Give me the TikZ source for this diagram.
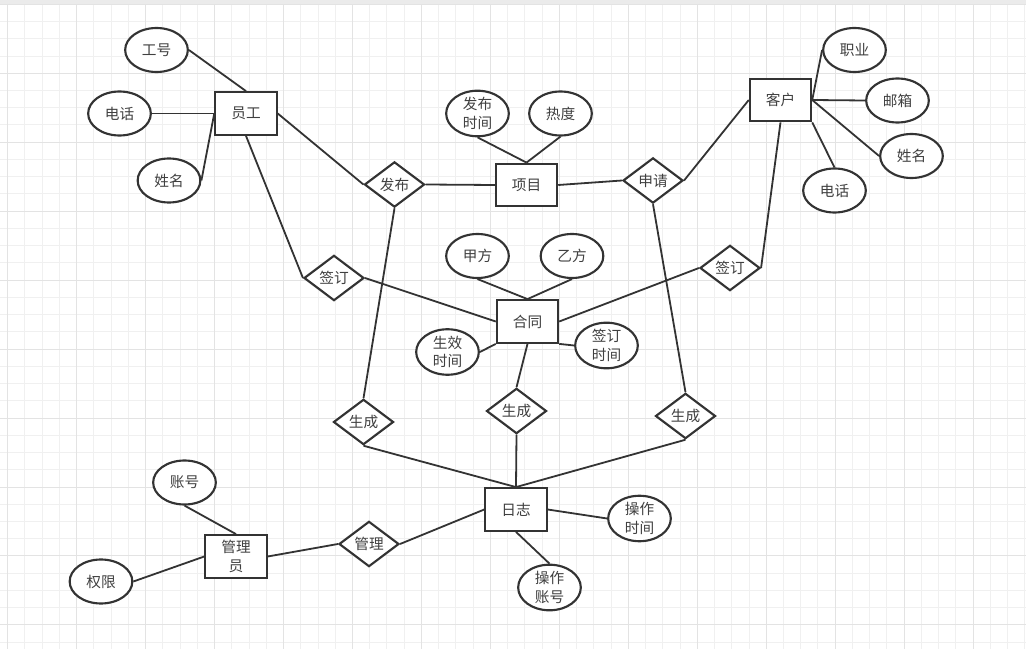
\documentclass[tikz,border=0pt]{standalone}
\usepackage{fontspec}
\setmainfont{Noto Sans CJK SC}
\usetikzlibrary{shapes.geometric}

\begin{document}
\begin{tikzpicture}[
    x=0.75pt, y=-0.75pt,
    font=\fontsize{11}{14}\selectfont,
    ent/.style={rectangle, draw=black!80, line width=1.6pt, fill=white,
                text=black!75, align=center, inner sep=0pt,
                minimum width=46pt, minimum height=32pt},
    attr/.style={ellipse, draw=black!80, line width=1.6pt, fill=white,
                text=black!75, align=center, inner sep=0pt,
                minimum width=47pt, minimum height=33pt},
    rel/.style={diamond, draw=black!80, line width=1.6pt, fill=white,
                text=black!75, align=center, inner sep=0pt,
                minimum width=45pt, minimum height=34pt},
    lnk/.style={line width=1.35pt, black!80},
    gridMinor/.style={line width=0.75pt, black!6},
    gridMajor/.style={line width=0.75pt, black!11},
]
\useasboundingbox (0,0) rectangle (1026,649);
\fill[white] (0,0) rectangle (1026,649);
\foreach \i in {0,...,59} \draw[gridMinor] (7.7+17.24*\i,0) -- ++(0,649);
\foreach \j in {0,...,37} \draw[gridMinor] (0,4.3+17.24*\j) -- ++(1026,0);
\foreach \i in {0,4,...,56} \draw[gridMajor] (7.7+17.24*\i,0) -- ++(0,649);
\foreach \j in {0,4,...,36} \draw[gridMajor] (0,4.3+17.24*\j) -- ++(1026,0);
\fill[black!8] (0,0) rectangle (1026,4);

\node[ent] (YG)  at (246,113.5) {员工};
\node[ent] (XM)  at (526.5,185) {项目};
\node[ent] (KH)  at (780.5,100) {客户};
\node[ent] (HT)  at (527.5,321.5) {合同};
\node[ent] (RZ)  at (516,509.5) {日志};
\node[ent] (GLY) at (236,556.5) {管理\\员};

\node[attr] (GH)   at (156.5,50) {工号};
\node[attr] (DHl)  at (119.5,113.5) {电话};
\node[attr] (XMl)  at (169,180.5) {姓名};
\node[attr] (FBSJ) at (477.5,113.5) {发布\\时间};
\node[attr] (RD)   at (560.5,113.5) {热度};
\node[attr] (ZY)   at (854.5,50) {职业};
\node[attr] (YX)   at (897.5,100.5) {邮箱};
\node[attr] (XMr)  at (911.5,156) {姓名};
\node[attr] (DHr)  at (834.5,190.5) {电话};
\node[attr] (JF)   at (477.5,256) {甲方};
\node[attr] (YF)   at (572,256) {乙方};
\node[attr] (SXSJ) at (447.5,352) {生效\\时间};
\node[attr] (QDSJ) at (606.5,345.5) {签订\\时间};
\node[attr] (CZSJ) at (639.5,518.5) {操作\\时间};
\node[attr] (CZZH) at (549.5,587.5) {操作\\账号};
\node[attr] (ZH)   at (184.5,482.5) {账号};
\node[attr] (QX)   at (101,581.5) {权限};

\node[rel] (FB)  at (394.5,184.5) {发布};
\node[rel] (SQ)  at (653,180.5) {申请};
\node[rel] (QDl) at (334,278) {签订};
\node[rel] (QDr) at (730,268) {签订};
\node[rel] (SCl) at (363.5,422) {生成};
\node[rel] (SCm) at (516.5,411) {生成};
\node[rel] (SCr) at (685.5,416) {生成};
\node[rel] (GL)  at (369,544) {管理};

\draw[lnk] (GH.east) -- (YG.north);
\draw[lnk] (DHl.east) -- (YG.west);
\draw[lnk] (XMl.east) -- (YG.west);
\draw[lnk] (YG.east) -- (FB.west);
\draw[lnk] (YG.south) -- (QDl.west);
\draw[lnk] (FB.east) -- (XM.west);
\draw[lnk] (FB.south) -- (SCl.north);
\draw[lnk] (FBSJ.south) -- (XM.north);
\draw[lnk] (RD.south) -- (XM.north);
\draw[lnk] (XM.east) -- (SQ.west);
\draw[lnk] (SQ.east) -- (KH.west);
\draw[lnk] (SQ.south) -- (SCr.north);
\draw[lnk] (KH.east) -- (ZY.west);
\draw[lnk] (KH.east) -- (YX.west);
\draw[lnk] (KH.east) -- (XMr.west);
\draw[lnk] (KH.south east) -- (DHr.north);
\draw[lnk] (KH.south) -- (QDr.east);
\draw[lnk] (QDl.east) -- (HT.west);
\draw[lnk] (QDr.west) -- (HT.east);
\draw[lnk] (JF.south) -- (HT.north);
\draw[lnk] (YF.south) -- (HT.north);
\draw[lnk] (SXSJ.east) -- (HT.south west);
\draw[lnk] (QDSJ.west) -- (HT.south east);
\draw[lnk] (HT.south) -- (SCm.north);
\draw[lnk] (SCl.south) -- (RZ.north);
\draw[lnk] (SCm.south) -- (RZ.north);
\draw[lnk] (SCr.south) -- (RZ.north);
\draw[lnk] (RZ.east) -- (CZSJ.west);
\draw[lnk] (RZ.south) -- (CZZH.north);
\draw[lnk] (RZ.west) -- (GL.east);
\draw[lnk] (GL.west) -- (GLY.east);
\draw[lnk] (ZH.south) -- (GLY.north);
\draw[lnk] (QX.east) -- (GLY.west);
\end{tikzpicture}
\end{document}
